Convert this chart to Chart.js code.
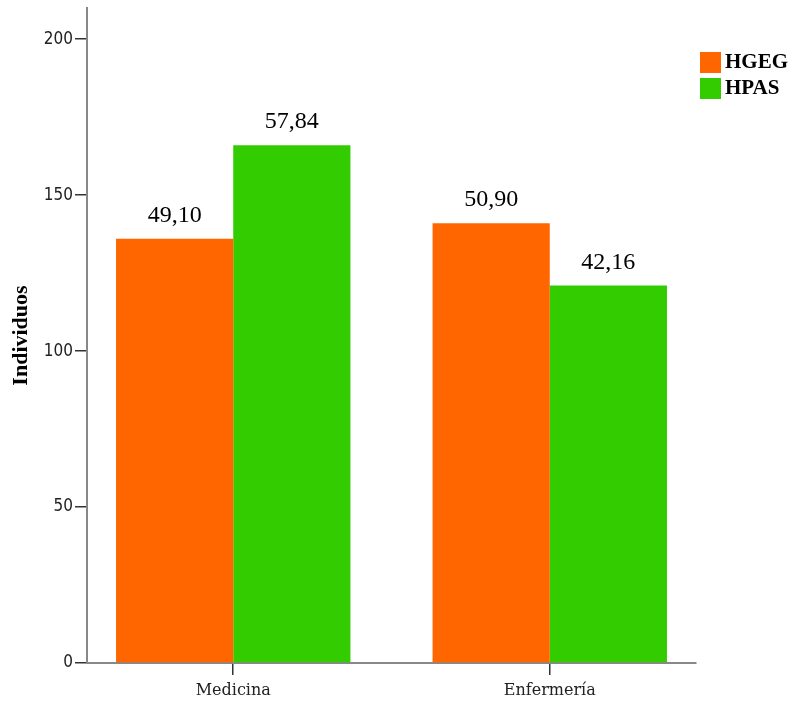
<!DOCTYPE html>
<html>
<head>
<meta charset="utf-8">
<script src="https://cdn.jsdelivr.net/npm/chart.js@4"></script>
<style>
  html, body { margin: 0; padding: 0; background: #fff; }
  #wrap { width: 793px; height: 701px; }
</style>
</head>
<body>
<div id="wrap"><canvas id="chart"></canvas></div>
<script>
const categories = ["Medicina", "Enfermería"];
const hgeg = [136, 141];
const hpas = [166, 121];
const hgegPct = ["49,10", "50,90"];
const hpasPct = ["57,84", "42,16"];
const yTicks = [0, 50, 100, 150, 200];

const toPoints = arr => arr.map((v, i) => ({ x: i, y: v }));

// percentage labels above each bar
const barLabels = {
  id: "barLabels",
  afterDatasetsDraw(chart) {
    const ctx = chart.ctx;
    ctx.save();
    ctx.font = "24px 'Liberation Serif'";
    ctx.fillStyle = "#000";
    ctx.textAlign = "center";
    ctx.textBaseline = "alphabetic";
    chart.data.datasets.forEach((ds, di) => {
      chart.getDatasetMeta(di).data.forEach((bar, i) => {
        ctx.fillText(ds.pctLabels[i], bar.x, bar.y - 17);
      });
    });
    ctx.restore();
  }
};

// simple legend at the top right, outside the plot
const sideLegend = {
  id: "sideLegend",
  afterDraw(chart) {
    const ctx = chart.ctx;
    const x = chart.chartArea.right + 4;
    ctx.save();
    ctx.font = "bold 21px 'Liberation Serif'";
    ctx.textBaseline = "middle";
    ctx.textAlign = "left";
    chart.data.datasets.forEach((ds, i) => {
      const y = 52 + i * 26;
      ctx.fillStyle = ds.backgroundColor;
      ctx.fillRect(x, y, 21, 21);
      ctx.fillStyle = "#000";
      ctx.fillText(ds.label, x + 25, y + 11);
    });
    ctx.restore();
  }
};

new Chart(document.getElementById("chart"), {
  type: "bar",
  data: {
    datasets: [
      { label: "HGEG", data: toPoints(hgeg), pctLabels: hgegPct, backgroundColor: "#ff6600" },
      { label: "HPAS", data: toPoints(hpas), pctLabels: hpasPct, backgroundColor: "#33cc00" }
    ]
  },
  options: {
    responsive: true,
    maintainAspectRatio: false,
    animation: false,
    layout: { padding: { top: 8, left: 0, right: 97, bottom: 0 } },
    categoryPercentage: 0.7405,
    barPercentage: 1,
    plugins: {
      tooltip: { enabled: false },
      legend: { display: false }
    },
    scales: {
      x: {
        type: "linear",
        offset: false,
        min: -0.462,
        max: 1.462,
        afterBuildTicks: s => { s.ticks = categories.map((c, i) => ({ value: i })); },
        afterFit: s => { s.height = 38; },
        ticks: {
          callback: v => categories[v],
          color: "#222",
          font: { family: "'DejaVu Serif'", size: 16 },
          padding: 6,
          maxRotation: 0
        },
        grid: { offset: false, drawOnChartArea: false, tickLength: 12, color: "#333", lineWidth: 1.5 },
        border: { color: "#888", width: 2 }
      },
      y: {
        min: 0,
        max: 210,
        afterBuildTicks: s => { s.ticks = yTicks.map(v => ({ value: v })); },
        afterFit: s => { s.width = 87; s.paddingTop = 0; s.paddingBottom = 0; },
        ticks: {
          color: "#222",
          font: { family: "'Liberation Sans Narrow', 'DejaVu Sans Condensed', sans-serif", size: 17 },
          padding: 2
        },
        grid: { drawOnChartArea: false, tickLength: 12, color: "#333", lineWidth: 1.5 },
        border: { color: "#888", width: 2 },
        title: {
          display: true,
          text: "Individuos",
          color: "#000",
          font: { family: "'Liberation Serif'", size: 22, weight: "bold" },
          padding: { top: 8, bottom: 0 }
        }
      }
    }
  },
  plugins: [barLabels, sideLegend]
});
</script>
</body>
</html>
